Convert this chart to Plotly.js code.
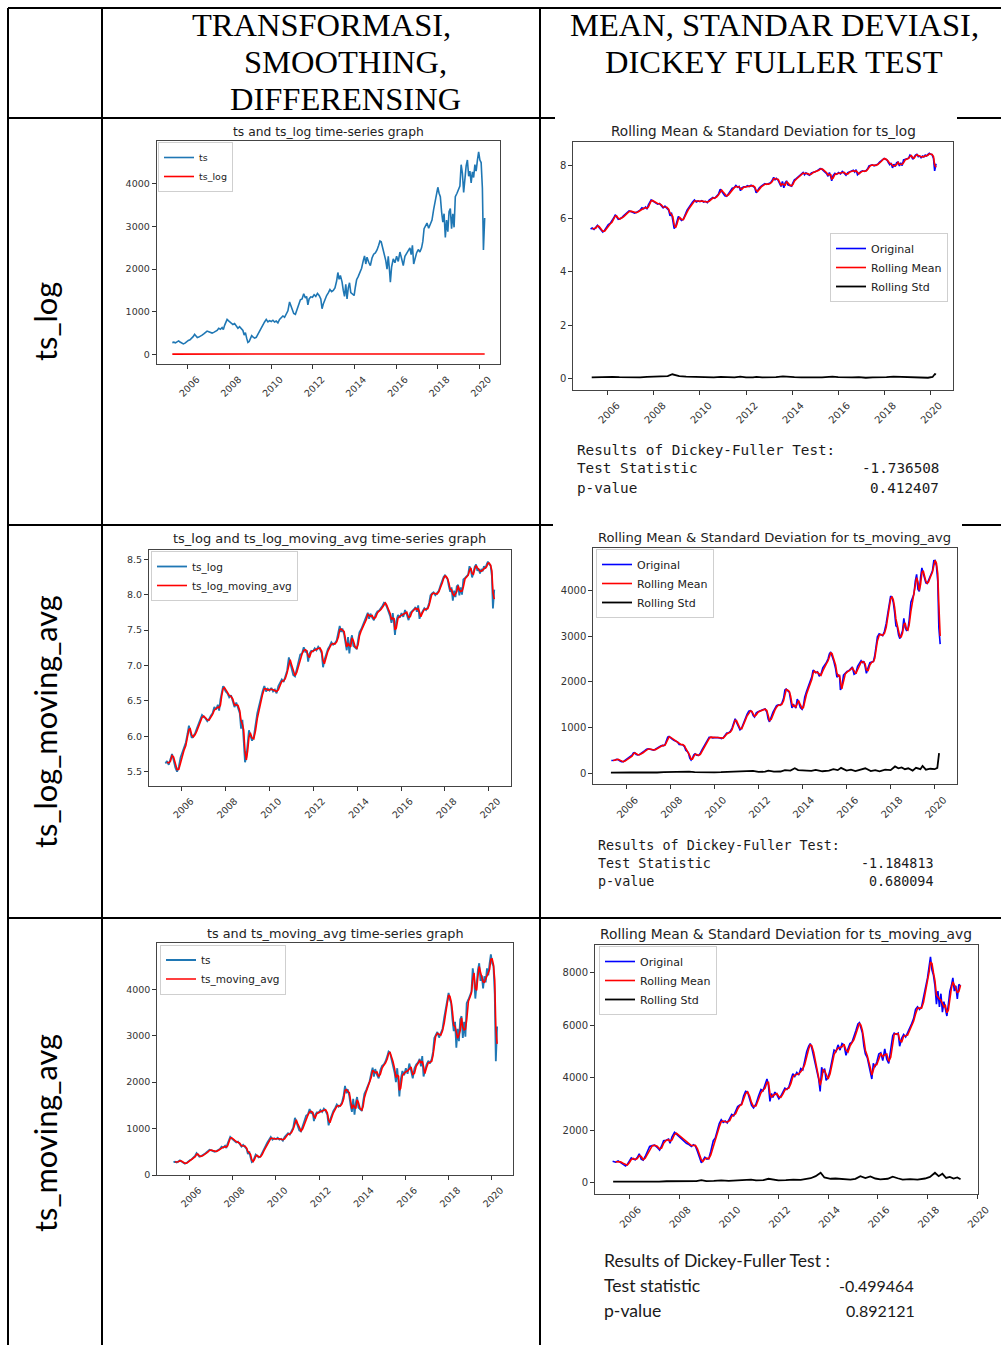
<!DOCTYPE html>
<html>
<head>
<meta charset="utf-8">
<script src="https://cdn.plot.ly/plotly-3.0.1.min.js"></script>
<style>
  html, body { margin: 0; padding: 0; background: #ffffff; }
  #chart { width: 1001px; height: 1345px; }
</style>
</head>
<body>
<div id="chart"></div>
<script>
// ---- daily closing price (sampled), April 2005 - March 2020 ----
const tsYear = [2005.25,2005.32,2005.40,2005.48,2005.55,2005.62,2005.70,2005.78,2005.86,2005.94,
  2006.02,2006.10,2006.18,2006.26,2006.32,2006.38,2006.45,2006.52,2006.60,2006.68,2006.76,2006.84,2006.92,
  2007.00,2007.08,2007.16,2007.24,2007.32,2007.40,2007.48,2007.56,2007.64,2007.70,2007.76,2007.82,2007.88,2007.94,
  2008.00,2008.08,2008.16,2008.24,2008.32,2008.40,2008.48,2008.56,2008.64,2008.70,2008.76,2008.82,2008.88,2008.94,
  2009.00,2009.06,2009.12,2009.20,2009.28,2009.36,2009.44,2009.52,2009.60,2009.68,2009.76,2009.84,2009.92,
  2010.00,2010.08,2010.16,2010.24,2010.32,2010.40,2010.48,2010.56,2010.64,2010.72,2010.80,2010.88,2010.94,
  2011.00,2011.08,2011.16,2011.24,2011.32,2011.40,2011.48,2011.56,2011.64,2011.70,2011.76,2011.82,2011.90,2011.98,
  2012.06,2012.14,2012.22,2012.30,2012.38,2012.44,2012.50,2012.58,2012.66,2012.74,2012.82,2012.90,2012.98,
  2013.06,2013.14,2013.20,2013.26,2013.32,2013.40,2013.46,2013.52,2013.58,2013.64,2013.70,2013.76,2013.82,2013.90,2013.98,
  2014.04,2014.10,2014.18,2014.26,2014.34,2014.42,2014.48,2014.54,2014.60,2014.68,2014.76,2014.84,2014.92,
  2015.00,2015.08,2015.16,2015.22,2015.28,2015.34,2015.42,2015.50,2015.56,2015.62,2015.68,2015.72,2015.78,2015.86,2015.94,
  2016.02,2016.10,2016.18,2016.26,2016.34,2016.42,2016.50,2016.58,2016.66,2016.72,2016.78,2016.84,2016.90,2016.98,
  2017.06,2017.14,2017.22,2017.28,2017.34,2017.40,2017.48,2017.56,2017.64,2017.72,2017.80,2017.88,2017.94,
  2018.00,2018.06,2018.12,2018.18,2018.24,2018.30,2018.36,2018.42,2018.48,2018.54,2018.60,2018.66,2018.72,2018.78,2018.84,2018.92,
  2019.00,2019.06,2019.12,2019.18,2019.24,2019.30,2019.36,2019.42,2019.48,2019.54,2019.60,2019.66,2019.72,2019.78,2019.84,2019.90,2019.96,
  2020.02,2020.08,2020.14,2020.19,2020.25];
const tsClose = [275,285,270,300,315,290,260,245,262,300,
  325,340,370,420,470,430,395,405,420,450,480,510,545,
  530,520,500,515,540,560,610,590,630,580,680,760,820,790,
  760,740,700,720,650,610,650,600,560,450,510,380,280,300,
  360,440,410,380,400,480,560,620,700,760,820,760,790,
  770,800,760,780,740,820,860,900,870,960,1020,1230,1150,
  1080,960,940,1050,1150,1280,1300,1420,1320,1360,1160,1300,1350,1340,
  1400,1360,1430,1380,1300,1070,1180,1300,1380,1440,1520,1470,1500,
  1560,1720,1920,1760,1850,1700,1500,1360,1640,1300,1560,1680,1450,1420,1380,
  1580,1750,1830,1950,2020,2200,2310,2120,2280,2160,2080,2260,2350,
  2380,2450,2560,2660,2640,2520,2380,2200,2000,2300,1960,1690,2050,2240,2150,
  2300,2180,2400,2250,2080,2300,2380,2420,2500,2340,2560,2120,2250,2380,
  2460,2400,2500,2650,2950,3020,3080,2960,3060,3150,3400,3650,3830,
  3920,3780,3700,3350,3100,3300,2740,3150,2880,3350,3420,2950,3300,2980,3700,3780,
  3900,3950,4450,4250,3800,4150,4420,4560,4180,4300,4020,4280,4150,4450,4300,4550,4750,
  4560,4500,3900,2450,3200];

// rolling std of ts_log
const stdLogYear = [2005.3,2005.6,2005.9,2006.2,2006.5,2006.8,2007.1,2007.4,2007.7,2008.0,2008.3,2008.6,2008.8,2008.95,
  2009.1,2009.4,2009.7,2010.0,2010.3,2010.6,2010.9,2011.2,2011.5,2011.75,2012.0,2012.3,2012.45,2012.7,
  2013.0,2013.3,2013.6,2013.8,2014.1,2014.4,2014.7,2015.0,2015.3,2015.6,2015.75,2016.0,2016.3,2016.6,2016.9,
  2017.2,2017.5,2017.8,2018.1,2018.4,2018.7,2019.0,2019.3,2019.6,2019.9,2020.1,2020.2,2020.25];
const stdLogValue = [0.03,0.04,0.03,0.05,0.04,0.03,0.04,0.03,0.05,0.06,0.05,0.08,0.15,0.12,
  0.08,0.06,0.05,0.04,0.04,0.03,0.05,0.04,0.03,0.06,0.03,0.03,0.05,0.03,
  0.03,0.04,0.07,0.05,0.04,0.03,0.03,0.02,0.03,0.05,0.06,0.04,0.03,0.03,0.04,
  0.02,0.03,0.03,0.04,0.06,0.05,0.03,0.04,0.03,0.02,0.05,0.16,0.14];

// rolling std of ts_moving_avg
const stdMavgYear = [2005.3,2005.6,2005.9,2006.2,2006.5,2006.8,2007.1,2007.4,2007.7,2008.0,2008.3,2008.6,2008.85,
  2009.1,2009.4,2009.7,2010.0,2010.3,2010.6,2010.9,2011.2,2011.5,2011.75,2012.0,2012.3,2012.45,2012.7,
  2013.0,2013.2,2013.45,2013.65,2013.8,2014.1,2014.4,2014.6,2014.9,2015.2,2015.4,2015.6,2015.75,
  2016.0,2016.2,2016.4,2016.6,2016.85,2017.1,2017.3,2017.5,2017.75,2018.0,2018.2,2018.35,2018.5,2018.65,2018.8,
  2019.0,2019.15,2019.35,2019.45,2019.6,2019.8,2020.0,2020.12,2020.2];
const stdMavgValue = [15,20,15,20,18,15,20,18,25,30,22,30,35,
  25,20,30,22,25,30,40,30,35,55,30,35,60,35,
  40,70,60,110,70,60,55,75,45,60,90,70,120,
  60,80,50,70,110,50,70,45,80,70,150,110,130,90,110,
  60,120,90,160,80,100,90,120,440];

// second price series (ts_moving_avg), April 2005 - April 2019
const mavg2Year = [2005.33,2005.45,2005.55,2005.65,2005.75,2005.85,2005.92,
  2006.00,2006.08,2006.16,2006.24,2006.32,2006.40,2006.48,2006.56,2006.64,2006.72,2006.82,2006.92,
  2007.02,2007.12,2007.22,2007.30,2007.38,2007.48,2007.58,2007.64,2007.72,2007.82,2007.90,
  2008.00,2008.10,2008.20,2008.30,2008.40,2008.50,2008.58,2008.66,2008.74,2008.82,2008.90,2008.96,
  2009.04,2009.12,2009.20,2009.28,2009.38,2009.46,2009.54,2009.62,2009.70,2009.78,2009.86,2009.94,
  2010.04,2010.12,2010.20,2010.28,2010.36,2010.44,2010.52,2010.60,2010.68,2010.76,2010.84,2010.92,
  2011.00,2011.10,2011.20,2011.30,2011.38,2011.46,2011.54,2011.60,2011.66,2011.72,2011.78,2011.86,2011.94,
  2012.02,2012.10,2012.18,2012.26,2012.34,2012.42,2012.50,2012.58,2012.66,2012.74,2012.82,2012.90,2012.98,
  2013.06,2013.14,2013.22,2013.28,2013.34,2013.42,2013.50,2013.56,2013.62,2013.68,2013.74,2013.80,2013.86,2013.92,
  2014.00,2014.08,2014.16,2014.24,2014.32,2014.40,2014.48,2014.56,2014.64,2014.72,2014.80,2014.88,2014.96,
  2015.04,2015.12,2015.20,2015.26,2015.32,2015.38,2015.44,2015.50,2015.58,2015.64,2015.70,2015.76,2015.82,2015.88,2015.96,
  2016.04,2016.12,2016.20,2016.28,2016.36,2016.44,2016.52,2016.60,2016.66,2016.74,2016.82,2016.88,2016.96,
  2017.04,2017.12,2017.20,2017.28,2017.36,2017.44,2017.52,2017.60,2017.68,2017.76,2017.84,2017.92,
  2018.00,2018.06,2018.12,2018.18,2018.24,2018.30,2018.36,2018.42,2018.48,2018.54,2018.60,2018.66,2018.72,2018.78,2018.84,2018.90,2018.96,
  2019.02,2019.08,2019.14,2019.20,2019.26,2019.33];
const mavg2Value = [820,780,830,760,720,640,700,
  820,950,900,870,960,1100,900,860,1000,1150,1380,1420,
  1430,1350,1240,1400,1600,1620,1660,1500,1750,1920,1850,
  1760,1680,1620,1500,1450,1380,1450,1400,1200,980,760,850,
  970,900,920,1200,1600,1700,2000,2250,2400,2300,2350,2280,
  2450,2600,2550,2700,2900,2950,3000,3300,3480,3450,3150,2950,
  2850,3000,3300,3550,3500,3700,3950,3700,3100,3400,3250,3450,3350,
  3200,3300,3450,3600,3550,3650,3900,4150,4050,4200,4100,4350,4300,
  4700,5000,5200,5300,5150,4800,4400,4100,3950,3480,4400,4200,4350,3900,
  4000,4300,4700,5050,5000,5250,5050,5300,5250,4850,5100,5300,5350,
  5550,5800,6050,6100,5900,5700,5200,4900,4750,4500,4250,3950,4550,4400,4600,
  4900,4950,4650,5100,4700,4550,5000,5600,5700,5650,5700,5200,5500,
  5650,5550,5700,5900,6050,6250,6600,6700,6600,6700,7050,7450,
  7800,8200,8600,8100,7900,7500,6800,7300,6700,7200,6500,6900,6600,6350,6800,7300,7500,
  7800,7300,7500,7000,7550,7500];

// rolling std of the second series
const std2Year = [2005.35,2005.7,2006.0,2006.3,2006.6,2006.9,2007.2,2007.5,2007.8,2008.1,2008.4,2008.7,2008.9,
  2009.1,2009.4,2009.7,2010.0,2010.3,2010.6,2010.9,2011.1,2011.4,2011.6,2011.8,2012.0,2012.3,2012.6,2012.9,
  2013.1,2013.3,2013.5,2013.7,2013.85,2014.1,2014.3,2014.6,2014.9,2015.1,2015.3,2015.5,2015.7,2015.9,
  2016.1,2016.4,2016.6,2016.8,2017.0,2017.3,2017.6,2017.9,2018.1,2018.3,2018.45,2018.6,2018.75,2018.9,
  2019.05,2019.2,2019.33];
const std2Value = [40,35,45,50,40,45,40,55,60,45,50,60,100,
  60,70,90,70,80,90,120,90,100,150,130,90,100,120,110,
  140,170,250,380,200,150,160,130,120,150,250,180,240,160,
  130,150,230,170,120,140,120,160,220,380,250,340,180,220,
  160,200,130];

// axis tick labels
const yearTicks = [2006, 2008, 2010, 2012, 2014, 2016, 2018, 2020];
const yearLabels = ["2006", "2008", "2010", "2012", "2014", "2016", "2018", "2020"];
const priceTicks = [0, 1000, 2000, 3000, 4000];
const priceTicks2 = [0, 2000, 4000, 6000, 8000];
const logTicks = [0, 2, 4, 6, 8];
const logTicks2 = [5.5, 6.0, 6.5, 7.0, 7.5, 8.0, 8.5];

// Dickey-Fuller results
const dfLabels = ["Results of Dickey-Fuller Test:", "Test Statistic", "p-value"];
const dfLog = ["-1.736508", "0.412407"];
const dfMavg = ["-1.184813", "0.680094"];
const dfMavg2 = ["-0.499464", "0.892121"];

// header and row captions
const headerCol1 = ["TRANSFORMASI,", "SMOOTHING,", "DIFFERENSING"];
const headerCol2 = ["MEAN, STANDAR DEVIASI,", "DICKEY FULLER TEST"];
const rowNames = ["ts_log", "ts_log_moving_avg", "ts_moving_avg"];

// ---- derived series ----
function rollingMean(vals, w) {
  return vals.map((v, i) => {
    if (i < w - 1) return null;
    let s = 0;
    for (let k = i - w + 1; k <= i; k++) s += vals[k];
    return s / w;
  });
}
const tsLog = tsClose.map(v => Math.log(v));
const tsLogMovingAvg = rollingMean(tsLog, 2);
const tsMovingAvg = rollingMean(tsClose, 2);
const tsMovingAvgMean = rollingMean(tsMovingAvg.map(v => v === null ? 0 : v), 2).map((v, i) => i < 2 ? null : v);
const mavg2Mean = rollingMean(mavg2Value, 2);

// ---- page geometry (pixels) ----
const W = 1001, H = 1345;
const PX = v => v / W;
const PY = v => 1 - v / H;

const TICK_FONT = 'DejaVu Sans';
const panels = [
  { l: 156.7, r: 500.3, t: 141, b: 364.3, xr: [2004.5, 2021.0], yr: [-234, 5006], yt: priceTicks, yl: priceTicks.map(String), fs: 9.5 },
  { l: 573.3, r: 953.3, t: 142, b: 389.7, xr: [2004.5, 2021.0], yr: [-0.43, 8.89], yt: logTicks, yl: logTicks.map(String), fs: 10 },
  { l: 149, r: 510.7, t: 550, b: 786, xr: [2004.5, 2021.0], yr: [5.30, 8.63], yt: logTicks2, yl: logTicks2.map(v => v.toFixed(1)), fs: 9.5 },
  { l: 593.3, r: 956.7, t: 548, b: 784.3, xr: [2004.5, 2021.0], yr: [-240, 4925], yt: priceTicks, yl: priceTicks.map(String), fs: 10 },
  { l: 157.3, r: 513.3, t: 943.3, b: 1175, xr: [2004.5, 2021.0], yr: [0, 4990], yt: priceTicks, yl: priceTicks.map(String), fs: 9.5 },
  { l: 595, r: 977.7, t: 945, b: 1194, xr: [2004.62, 2020.02], yr: [-430, 9055], yt: priceTicks2, yl: priceTicks2.map(String), fs: 10 }
];

const layout = {
  width: W, height: H,
  margin: { l: 0, r: 0, t: 0, b: 0 },
  paper_bgcolor: '#ffffff', plot_bgcolor: '#ffffff',
  showlegend: true,
  font: { family: TICK_FONT, color: '#333' },
  shapes: [], annotations: []
};

panels.forEach((p, i) => {
  const n = i + 1, s = n === 1 ? '' : String(n);
  layout['xaxis' + s] = {
    domain: [PX(p.l), PX(p.r)], range: p.xr, anchor: 'y' + s,
    tickmode: 'array', tickvals: yearTicks, ticktext: yearLabels,
    tickangle: -45, ticks: 'outside', ticklen: 4, tickwidth: 1, tickcolor: '#333',
    ticklabelshift: 9, ticklabelstandoff: 1,
    showline: true, mirror: true, linecolor: '#444', linewidth: 1,
    showgrid: false, zeroline: false, automargin: false,
    tickfont: { family: TICK_FONT, size: p.fs, color: '#333' }
  };
  layout['yaxis' + s] = {
    domain: [PY(p.b), PY(p.t)], range: p.yr, anchor: 'x' + s,
    tickmode: 'array', tickvals: p.yt, ticktext: p.yl,
    ticks: 'outside', ticklen: 4, tickwidth: 1, tickcolor: '#333',
    showline: true, mirror: true, linecolor: '#444', linewidth: 1,
    showgrid: false, zeroline: false, automargin: false,
    tickfont: { family: TICK_FONT, size: p.fs, color: '#333' }
  };
});

// legends, one per panel (box top-left in pixels)
const legendBoxes = [
  { x: 158, y: 142, fs: 9.5 },
  { x: 830, y: 233, fs: 11 },
  { x: 151, y: 551, fs: 10.5 },
  { x: 596, y: 549, fs: 11 },
  { x: 160, y: 944.5, fs: 10.5 },
  { x: 599, y: 946, fs: 11 }
];
legendBoxes.forEach((b, i) => {
  const key = i === 0 ? 'legend' : 'legend' + (i + 1);
  layout[key] = {
    x: PX(b.x), y: PY(b.y), xanchor: 'left', yanchor: 'top',
    bgcolor: 'rgba(255,255,255,0.85)', bordercolor: '#cfcfcf', borderwidth: 1,
    font: { family: TICK_FONT, size: b.fs, color: '#222' },
    itemwidth: 30, tracegroupgap: 0, traceorder: 'normal'
  };
});

const MPL_BLUE = '#1f77b4';
function line(x, y, name, color, n, width) {
  const s = n === 1 ? '' : String(n);
  return {
    type: 'scatter', mode: 'lines', x: x, y: y, name: name,
    xaxis: 'x' + s, yaxis: 'y' + s, legend: n === 1 ? 'legend' : 'legend' + n,
    line: { color: color, width: width || 1.6 }, connectgaps: false, hoverinfo: 'skip'
  };
}

const traces = [
  line(tsYear, tsClose, 'ts', MPL_BLUE, 1),
  line(tsYear, tsLog, 'ts_log', 'red', 1),

  line(tsYear, tsLog, 'Original', 'blue', 2),
  line(tsYear, tsLogMovingAvg, 'Rolling Mean', 'red', 2),
  line(stdLogYear, stdLogValue, 'Rolling Std', 'black', 2, 1.8),

  line(tsYear, tsLog, 'ts_log', MPL_BLUE, 3, 1.8),
  line(tsYear, tsLogMovingAvg, 'ts_log_moving_avg', 'red', 3),

  line(tsYear, tsMovingAvg, 'Original', 'blue', 4),
  line(tsYear, tsMovingAvgMean, 'Rolling Mean', 'red', 4),
  line(stdMavgYear, stdMavgValue, 'Rolling Std', 'black', 4, 1.8),

  line(tsYear, tsClose, 'ts', MPL_BLUE, 5, 1.8),
  line(tsYear, tsMovingAvg, 'ts_moving_avg', 'red', 5),

  line(mavg2Year, mavg2Value, 'Original', 'blue', 6),
  line(mavg2Year, mavg2Mean, 'Rolling Mean', 'red', 6),
  line(std2Year, std2Value, 'Rolling Std', 'black', 6, 1.8)
];

// panel titles
const titles = [
  { text: 'ts and ts_log time-series graph', x: 328.5, y: 131.5, fs: 12.3 },
  { text: 'Rolling Mean &amp; Standard Deviation for ts_log', x: 763, y: 131, fs: 13.6 },
  { text: 'ts_log and ts_log_moving_avg time-series graph', x: 329.5, y: 539, fs: 13 },
  { text: 'Rolling Mean &amp; Standard Deviation for ts_moving_avg', x: 774.5, y: 537.7, fs: 13.1 },
  { text: 'ts and ts_moving_avg time-series graph', x: 335, y: 933.3, fs: 12.8 },
  { text: 'Rolling Mean &amp; Standard Deviation for ts_moving_avg', x: 786, y: 934, fs: 13.8 }
];
titles.forEach(t => layout.annotations.push({
  xref: 'paper', yref: 'paper', x: PX(t.x), y: PY(t.y), xanchor: 'center', yanchor: 'middle',
  text: t.text, showarrow: false, font: { family: TICK_FONT, size: t.fs, color: '#222' }
}));

// Dickey-Fuller result blocks
function dfBlock(vals, left, right, ys, family, size) {
  dfLabels.forEach((lab, i) => layout.annotations.push({
    xref: 'paper', yref: 'paper', x: PX(left), y: PY(ys[i]), xanchor: 'left', yanchor: 'middle',
    text: lab, showarrow: false, font: { family: family, size: size, color: '#1a1a1a' }
  }));
  vals.forEach((v, i) => layout.annotations.push({
    xref: 'paper', yref: 'paper', x: PX(right), y: PY(ys[i + 1]), xanchor: 'right', yanchor: 'middle',
    text: v, showarrow: false, font: { family: family, size: size, color: '#1a1a1a' }
  }));
}
dfBlock(dfLog, 575, 941, [450, 468.5, 488], 'DejaVu Sans Mono', 14.3);
dfBlock(dfMavg, 596, 935.5, [845.5, 863.5, 881.5], 'DejaVu Sans Mono', 13.4);
layout.annotations.push({
  xref: 'paper', yref: 'paper', x: PX(602), y: PY(1260.5), xanchor: 'left', yanchor: 'middle',
  text: 'Results of Dickey-Fuller Test :', showarrow: false, font: { family: 'Lato', size: 17.6, color: '#1a1a1a' }
});
[['Test statistic', dfMavg2[0], 1285.5], ['p-value', dfMavg2[1], 1310.5]].forEach(r => {
  layout.annotations.push({
    xref: 'paper', yref: 'paper', x: PX(602), y: PY(r[2]), xanchor: 'left', yanchor: 'middle',
    text: r[0], showarrow: false, font: { family: 'Lato', size: 17.6, color: '#1a1a1a' }
  });
  layout.annotations.push({
    xref: 'paper', yref: 'paper', x: PX(r[1][0] === '-' ? 915.5 : 917), y: PY(r[2]), xanchor: 'right', yanchor: 'middle',
    text: r[1], showarrow: false, font: { family: 'Lato', size: 16, color: '#1a1a1a' }
  });
});

// column headers
const headerPos1 = [[321, 25], [345, 62], [345, 99]];
headerCol1.forEach((t, i) => layout.annotations.push({
  xref: 'paper', yref: 'paper', x: PX(headerPos1[i][0]), y: PY(headerPos1[i][1]), xanchor: 'center', yanchor: 'middle',
  text: t, showarrow: false, font: { family: 'Liberation Serif', size: 32.5, color: '#000' }
}));
const headerPos2 = [[774, 25], [774, 62]];
headerCol2.forEach((t, i) => layout.annotations.push({
  xref: 'paper', yref: 'paper', x: PX(headerPos2[i][0]), y: PY(headerPos2[i][1]), xanchor: 'center', yanchor: 'middle',
  text: t, showarrow: false, font: { family: 'Liberation Serif', size: 32.5, color: '#000' }
}));

// row captions (vertical)
const rowCenters = [322, 722, 1133];
rowNames.forEach((t, i) => layout.annotations.push({
  xref: 'paper', yref: 'paper', x: PX(45), y: PY(rowCenters[i]), xanchor: 'center', yanchor: 'middle',
  text: t, textangle: -90, showarrow: false, font: { family: 'Lato', size: 30.8, color: '#000' }
}));

// table rules
function rule(x0, y0, x1, y1) {
  layout.shapes.push({
    type: 'line', xref: 'paper', yref: 'paper',
    x0: PX(x0), y0: PY(y0), x1: PX(x1), y1: PY(y1),
    line: { color: '#000', width: 2 }, layer: 'above'
  });
}
rule(8, 8, 1001, 8);
rule(8, 8, 8, 1345);
rule(102, 8, 102, 1345);
rule(540, 8, 540, 1345);
rule(8, 118, 555, 118);
rule(957, 118, 1001, 118);
rule(8, 525, 553, 525);
rule(962, 525, 1001, 525);
rule(8, 918, 1001, 918);

Plotly.newPlot('chart', traces, layout, { displayModeBar: false, staticPlot: true });
</script>
</body>
</html>
